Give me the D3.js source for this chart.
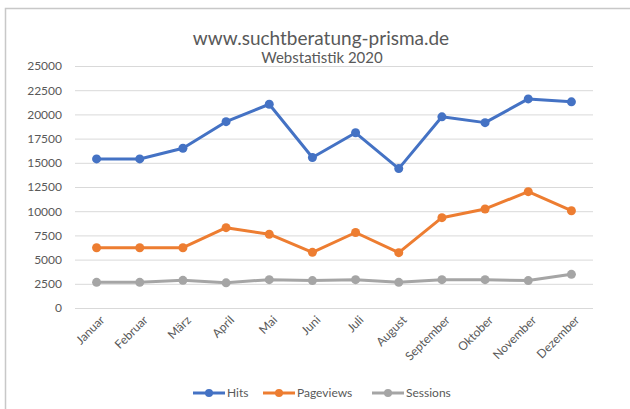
<!DOCTYPE html>
<html>
<head>
<meta charset="utf-8">
<script src="https://cdn.jsdelivr.net/npm/d3@7"></script>
<style>
  body { margin: 0; background: #fff; }
  text { font-family: Lato, "Open Sans", sans-serif; fill: #595959; }
</style>
</head>
<body>
<div id="chart"></div>
<script>
// data
var months = ["Januar", "Februar", "März", "April", "Mai", "Juni", "Juli",
  "August", "September", "Oktober", "November", "Dezember"];
var hits = [15400, 15400, 16500, 19250, 21050, 15550, 18100, 14400, 19750, 19150, 21600, 21300];
var pageviews = [6230, 6230, 6230, 8300, 7620, 5750, 7800, 5720, 9330, 10230, 12020, 10050];
var sessions = [2650, 2650, 2860, 2600, 2930, 2830, 2930, 2650, 2930, 2930, 2830, 3480];
var yTicks = [0, 2500, 5000, 7500, 10000, 12500, 15000, 17500, 20000, 22500, 25000];

var seriesNames = ["Hits", "Pageviews", "Sessions"];
var seriesColors = ["#4472C4", "#ED7D31", "#A5A5A5"];

var series = [hits, pageviews, sessions].map(function(vals, i) {
  return { name: seriesNames[i], color: seriesColors[i], values: vals };
});

function drawChart() {
  var W = 630, H = 409;
  var margin = { top: 66, right: 37, bottom: 101, left: 75 },
    width = W - margin.left - margin.right,
    height = H - margin.top - margin.bottom;

  var svg = d3.select("#chart")
    .append("svg")
    .attr("width", W)
    .attr("height", H);

  // chart area border (cropped on right / bottom in the picture)
  svg.append("path")
    .attr("d", "M5.5," + H + " V8.5 H" + W)
    .attr("fill", "none")
    .attr("stroke", "#c8c8c8")
    .attr("stroke-width", 1.5);

  svg.append("text")
    .attr("x", 321)
    .attr("y", 45)
    .attr("text-anchor", "middle")
    .style("font-size", "19px")
    .text("www.suchtberatung-prisma.de");

  svg.append("text")
    .attr("x", 322)
    .attr("y", 63)
    .attr("text-anchor", "middle")
    .style("font-size", "15px")
    .text("Webstatistik 2020");

  var g = svg.append("g")
    .attr("transform", `translate(${margin.left}, ${margin.top})`);

  var x = d3.scaleBand().domain(months).range([0, width]);
  var y = d3.scaleLinear().domain([0, 25000]).range([height, 0]);

  // horizontal gridlines
  g.selectAll(".grid")
    .data(yTicks)
    .enter()
    .append("line")
    .attr("class", "grid")
    .attr("x1", 0)
    .attr("x2", width)
    .attr("y1", (d) => y(d) + 0.5)
    .attr("y2", (d) => y(d) + 0.5)
    .attr("stroke", "#d9d9d9")
    .attr("stroke-width", 1);

  var yAxis = d3.axisLeft(y)
    .tickValues(yTicks)
    .tickFormat(d3.format("d"))
    .tickSize(0)
    .tickPadding(13);
  g.append("g")
    .attr("class", "y axis")
    .call(yAxis)
    .call((a) => a.select(".domain").remove())
    .selectAll("text")
    .style("font-size", "12px")
    .attr("fill", "#595959");

  var xAxis = d3.axisBottom(x).tickSize(0).tickPadding(6);
  g.append("g")
    .attr("class", "x axis")
    .attr("transform", "translate(0, " + height + ")")
    .call(xAxis)
    .call((a) => a.select(".domain").remove())
    .selectAll("text")
    .style("font-size", "12px")
    .attr("fill", "#595959")
    .attr("text-anchor", "end")
    .attr("dy", "0.3em")
    .attr("transform", "translate(2, 6) rotate(-45)");

  var cx = (d, i) => x(months[i]) + x.bandwidth() / 2;

  var line = d3.line()
    .x(cx)
    .y((d) => y(d));

  var sg = g.selectAll(".series")
    .data(series)
    .enter()
    .append("g")
    .attr("class", "series");

  sg.append("path")
    .attr("d", (s) => line(s.values))
    .attr("fill", "none")
    .attr("stroke", (s) => s.color)
    .attr("stroke-width", 3)
    .attr("stroke-linejoin", "round");

  sg.each(function(s) {
    d3.select(this)
      .selectAll("circle")
      .data(s.values)
      .enter()
      .append("circle")
      .attr("cx", cx)
      .attr("cy", (d) => y(d))
      .attr("r", 4.5)
      .attr("fill", s.color);
  });

  // legend
  var legendX = [193, 263, 372];
  var legend = svg.selectAll(".legend")
    .data(series)
    .enter()
    .append("g")
    .attr("class", "legend")
    .attr("transform", (s, i) => `translate(${legendX[i]}, 393)`);

  legend.append("line")
    .attr("x1", 0)
    .attr("x2", 32)
    .attr("stroke", (s) => s.color)
    .attr("stroke-width", 3);

  legend.append("circle")
    .attr("cx", 16)
    .attr("r", 4)
    .attr("fill", (s) => s.color);

  legend.append("text")
    .attr("x", 34)
    .attr("dy", "0.35em")
    .style("font-size", "12px")
    .text((s) => s.name);
}

drawChart();
</script>
</body>
</html>
